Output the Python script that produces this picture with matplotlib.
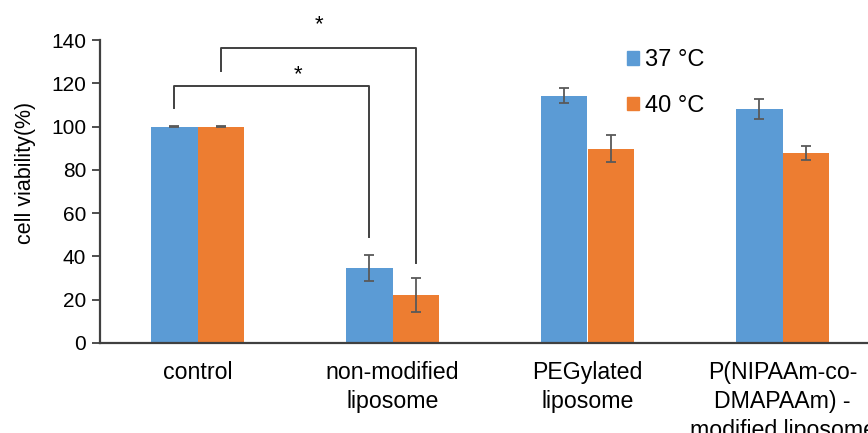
import matplotlib
matplotlib.use("Agg")
import matplotlib.pyplot as plt
import numpy as np
from matplotlib.patches import Patch

categories = ["control", "non-modified\nliposome", "PEGylated\nliposome",
              "P(NIPAAm-co-\nDMAPAAm) -\nmodified liposome"]
series_names = ["37 °C", "40 °C"]
vals_37 = [100, 34.6, 114.2, 108.1]
err_37 = [0.3, 6.1, 3.5, 4.5]
vals_40 = [100, 22.3, 89.8, 87.8]
err_40 = [0.3, 7.9, 6.2, 3.1]
yticks = [0, 20, 40, 60, 80, 100, 120, 140]

plt.rcParams['font.family'] = ['Liberation Sans', 'DejaVu Sans']

W, H = 868, 433
fig = plt.figure(figsize=(W/100, H/100), dpi=100)
ax = fig.add_axes([100/W, (H-343)/H, 780/W, 303/H])

blue = '#5B9BD5'
orange = '#ED7D31'
x = np.arange(len(categories))
bw = 0.24
ekw = dict(ecolor='#595959', elinewidth=1.3, capsize=3.3, capthick=1.3)
ax.bar(x - bw/2, vals_37, bw, color=blue, yerr=err_37, error_kw=ekw, zorder=2)
ax.bar(x + bw/2, vals_40, bw, color=orange, yerr=err_40, error_kw=ekw, zorder=2)

ax.set_xlim(-0.5, 3.5)
ax.set_ylim(0, 140)
ax.set_yticks(yticks)
ax.tick_params(axis='y', labelsize=15, length=6, width=1.3, color='#404040', pad=4)
ax.set_xticks(x)
ax.set_xticklabels(categories, fontsize=16.7, linespacing=1.34)
ax.tick_params(axis='x', length=0, pad=13)
for s in ['top', 'right']:
    ax.spines[s].set_visible(False)
for s in ['left', 'bottom']:
    ax.spines[s].set_color('#404040')
    ax.spines[s].set_linewidth(1.6)

fig.text(25/W, 1 - 173/H, "cell viability(%)", rotation=90, fontsize=15.5,
         ha='center', va='center')

# significance brackets
lc = '#404040'
x1a, x1b = 0 - bw/2, 1 - bw/2
ax.plot([x1a, x1a, x1b, x1b], [108.5, 118.6, 118.6, 49], color=lc, lw=1.4,
        clip_on=False, zorder=3)
ax.text((x1a + x1b) / 2 + 0.136, 119.3, "*", ha='center', va='bottom', fontsize=16)
x2a, x2b = 0 + bw/2, 1 + bw/2
ax.plot([x2a, x2a, x2b, x2b], [125.7, 136.3, 136.3, 36.8], color=lc, lw=1.4,
        clip_on=False, zorder=3)
ax.text((x2a + x2b) / 2 + 0.005, 142.2, "*", ha='center', va='bottom', fontsize=16)

handles = [Patch(color=blue), Patch(color=orange)]
leg = ax.legend(handles, series_names, loc='upper left',
                bbox_to_anchor=((606 - 100) / 780, 1.039), frameon=False,
                fontsize=17, handlelength=0.51, handleheight=0.51,
                handletextpad=0.26, labelspacing=1.0)

fig.savefig("out.png", dpi=100)
